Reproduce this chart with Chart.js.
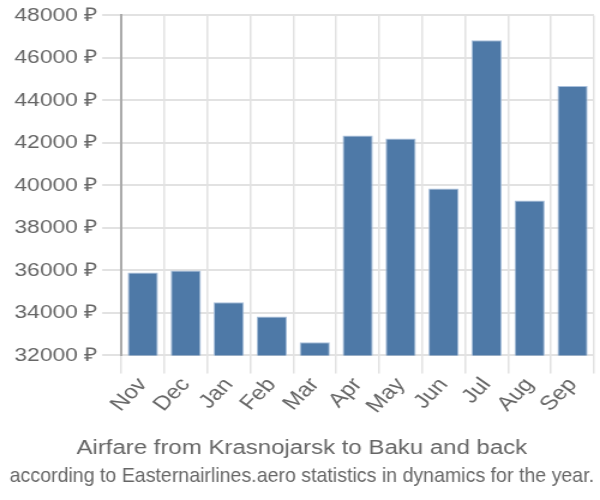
<!DOCTYPE html>
<html>
<head>
<meta charset="utf-8">
<script src="https://cdn.jsdelivr.net/npm/chart.js@4"></script>
<style>
  html, body { margin: 0; padding: 0; background: #fff; overflow: hidden; }
  /* the reference is drawn at 500 wide and stretched to 600 */
  #wrap { width: 500px; height: 500px; transform: scaleX(1.2); transform-origin: 0 0; }
</style>
</head>
<body>
<div id="wrap"><canvas id="chart"></canvas></div>
<script>
const months = ['Nov', 'Dec', 'Jan', 'Feb', 'Mar', 'Apr', 'May', 'Jun', 'Jul', 'Aug', 'Sep']
const prices = [35900, 36000, 34500, 33830, 32620, 42350, 42210, 39850, 46830, 39290, 44680]
const titleText = 'Airfare from Krasnojarsk to Baku and back'
const subtitleText = 'according to Easternairlines.aero statistics in dynamics for the year.'

Chart.defaults.font.family = '"Liberation Sans", Arial, sans-serif'
Chart.defaults.color = '#666'

const ctx = document.getElementById('chart').getContext('2d')
new Chart(ctx, {
  type: 'bar',
  data: {
    labels: months,
    datasets: [
      {
        label: 'Price',
        data: prices,
        backgroundColor: '#4e79a7',
        borderColor: '#a9c0dc',
        borderWidth: 1,
        categoryPercentage: 0.8,
        barPercentage: 0.88,
      },
    ],
  },
  options: {
    responsive: true,
    maintainAspectRatio: false,
    animation: false,
    layout: { padding: { top: 3, right: 5, left: 8, bottom: 0 } },
    plugins: {
      legend: { display: false },
      tooltip: { enabled: false },
      // title sits above the subtitle, both under the axis
      title: {
        display: true,
        position: 'bottom',
        weight: 1400,
        text: titleText,
        color: '#666',
        font: { size: 20, weight: 'normal' },
        padding: { top: 19, bottom: 3 },
      },
      subtitle: {
        display: true,
        position: 'bottom',
        weight: 1500,
        text: subtitleText,
        color: '#666',
        font: { family: '"Liberation Sans Narrow", "Arial Narrow", "Liberation Sans", sans-serif', size: 21, weight: 'normal' },
        padding: { top: 0, bottom: 11 },
      },
    },
    scales: {
      x: {
        grid: { color: '#e2e2e2', lineWidth: 1.5, tickLength: 18, offset: true },
        border: { color: '#e2e2e2', width: 2 },
        ticks: {
          font: { size: 20 },
          color: '#666',
          maxRotation: 50,
          minRotation: 50,
          padding: 0,
        },
      },
      y: {
        min: 32000,
        max: 48000,
        grid: { color: '#e2e2e2', lineWidth: 2, tickLength: 16 },
        border: { color: '#aaa', width: 2 },
        ticks: {
          stepSize: 2000,
          font: { size: 19 },
          color: '#666',
          padding: 4,
          callback: (v) => v + ' ₽',
        },
      },
    },
  },
})
</script>
</body>
</html>
